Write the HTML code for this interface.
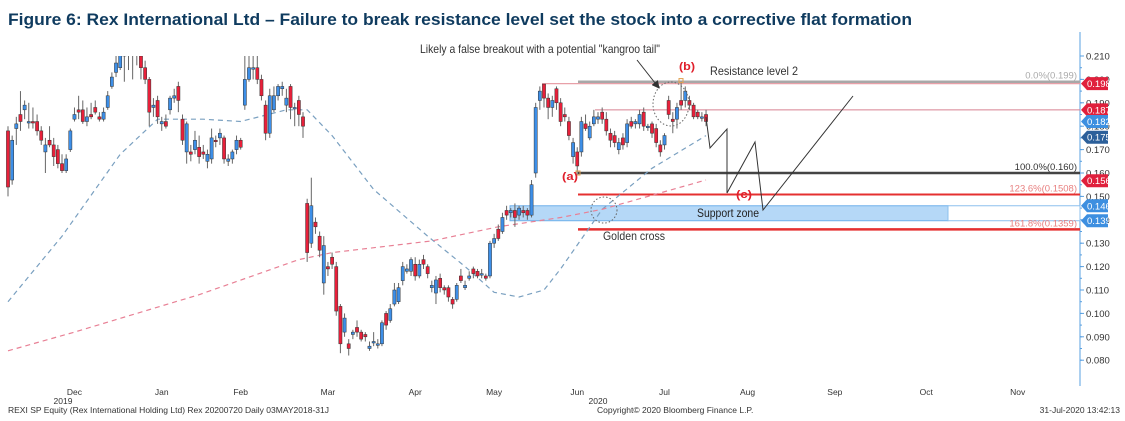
<!DOCTYPE html>
<html><head><meta charset="utf-8"><style>
html,body{margin:0;padding:0;background:#fff;}
svg{display:block;font-family:"Liberation Sans",sans-serif;}
</style></head><body>
<svg id="chart" width="1125" height="421" viewBox="0 0 1125 421" xmlns="http://www.w3.org/2000/svg">
<defs><clipPath id="plotclip"><rect x="0" y="56" width="1080" height="330"/></clipPath>
<marker id="arr" markerWidth="8" markerHeight="8" refX="7" refY="4" orient="auto"><path d="M0,0 L8,4 L0,8 z" fill="#333"/></marker></defs>
<text x="8" y="25" font-size="17" font-weight="bold" fill="#0f3b5f" textLength="904" lengthAdjust="spacingAndGlyphs">Figure 6: Rex International Ltd – Failure to break resistance level set the stock into a corrective flat formation</text>
<line x1="1080" y1="32" x2="1080" y2="386" stroke="#5aa0e0" stroke-width="1"/>
<g id="yticks"></g>
<g id="levels"></g>
<g id="mas" clip-path="url(#plotclip)"></g>
<g id="candles" clip-path="url(#plotclip)"></g>
<g id="annot"></g>
<g id="tags"></g>
<g id="xlabels"></g>
<text x="8" y="413" font-size="8.5" fill="#333">REXI SP Equity (Rex International Holding Ltd) Rex 20200720  Daily 03MAY2018-31J</text>
<text x="597" y="413" font-size="8.5" fill="#333">Copyright© 2020 Bloomberg Finance L.P.</text>
<text x="1120" y="413" font-size="8.5" fill="#333" text-anchor="end">31-Jul-2020 13:42:13</text>
</svg>
<script>
const opens=[.178,.157,.179,.185,.187,.182,.182,.182,.178,.169,.174,.172,.170,.164,.161,.170,.183,.187,.187,.182,.185,.188,.184,.183,.188,.197,.203,.205,.210,.211,.212,.214,.210,.205,.200,.188,.191,.181,.182,.187,.192,.197,
.183,.169,.169,.170,.171,.169,.165,.166,.174,.175,.175,.165,.166,.170,.174,.189,.200,.205,.205,.200,.189,.177,.187,.193,.196,.189,.197,.188,.191,.184,
.147,.130,.139,.133,.113,.120,.124,.120,.103,.092,.087,.091,.094,.092,.091,.085,.088,.087,.087,.100,.097,.104,.105,.114,.118,.118,.121,.116,.123,.120,.111,.1087,.115,.111,.111,.106,.106,.116,.111,.115,.119,.118,.117,.116,.116,.130,.136,.135,.144,.143,
.144,.142,.144,.144,.142,.160,.191,.198,.192,.188,.196,.190,.185,.182,.167,.169,.169,.181,.175,.181,.183,.186,.183,.177,.176,.170,.175,.173,.182,.181,.181,.186,.180,.181,.179,.172,.172,.191,.183,.183,.191,.191,.191,.189,.186,.184,.185];
const closes=[.154,.174,.181,.182,.189,.182,.1815,.178,.174,.172,.172,.167,.164,.161,.166,.178,.185,.186,.182,.184,.184,.186,.183,.186,.193,.201,.207,.211,.212,.213,.214,.212,.205,.200,.186,.189,.184,.182,.180,.192,.193,.191,
.174,.181,.168,.174,.167,.168,.168,.175,.1735,.177,.166,.166,.169,.174,.171,.200,.205,.205,.200,.193,.177,.193,.193,.197,.197,.192,.188,.188,.185,.180,
.126,.146,.137,.127,.129,.119,.121,.101,.087,.098,.085,.092,.092,.089,.090,.086,.088,.087,.096,.095,.102,.110,.111,.120,.119,.123,.116,.121,.121,.117,.112,.1143,.111,.110,.107,.104,.112,.114,.112,.116,.117,.116,.117,.115,.130,.132,.132,.141,.142,.144,
.141,.145,.143,.142,.155,.188,.195,.192,.188,.191,.190,.182,.184,.176,.173,.163,.182,.179,.180,.184,.184,.183,.178,.174,.173,.173,.172,.181,.180,.182,.185,.180,.180,.177,.173,.169,.176,.185,.182,.188,.189,.195,.189,.184,.184,.184,.182];
const highs=[.180,.176,.184,.195,.191,.190,.188,.185,.180,.175,.180,.175,.172,.168,.168,.179,.188,.193,.191,.188,.190,.191,.186,.188,.195,.203,.212,.214,.215,.216,.216,.216,.213,.208,.201,.192,.193,.184,.185,.193,.196,.199,
.185,.182,.172,.178,.176,.172,.170,.179,.176,.179,.176,.168,.170,.176,.175,.210,.214,.214,.212,.202,.191,.196,.197,.198,.199,.196,.198,.190,.193,.186,
.149,.158,.141,.135,.133,.122,.126,.122,.104,.100,.089,.093,.097,.093,.092,.088,.092,.089,.097,.101,.104,.113,.113,.122,.121,.124,.124,.123,.125,.121,.114,.116,.117,.112,.112,.107,.113,.119,.114,.118,.120,.119,.119,.117,.131,.134,.138,.143,.146,.145,
.147,.146,.146,.145,.157,.190,.197,.198,.194,.193,.197,.192,.188,.184,.175,.171,.184,.185,.182,.187,.186,.188,.186,.179,.178,.175,.177,.183,.184,.183,.187,.188,.181,.182,.181,.174,.177,.193,.186,.190,.199,.197,.193,.190,.187,.186,.187];
const lows=[.150,.155,.172,.178,.183,.179,.179,.176,.172,.160,.171,.163,.162,.160,.160,.169,.182,.183,.181,.180,.183,.185,.182,.182,.187,.196,.201,.204,.199,.204,.200,.206,.200,.198,.180,.184,.181,.178,.179,.185,.190,.186,
.172,.164,.165,.168,.164,.166,.162,.164,.171,.172,.164,.163,.164,.168,.170,.187,.199,.200,.198,.191,.174,.175,.186,.191,.193,.186,.183,.180,.180,.175,
.122,.128,.134,.124,.108,.116,.119,.099,.083,.090,.082,.089,.090,.088,.088,.084,.086,.085,.086,.093,.096,.103,.104,.112,.117,.116,.114,.115,.119,.115,.109,.104,.109,.108,.105,.102,.105,.113,.110,.114,.115,.115,.115,.114,.115,.128,.131,.134,.140,.141,
.137,.140,.141,.140,.141,.158,.187,.188,.183,.184,.187,.180,.182,.174,.164,.159,.167,.178,.174,.180,.181,.181,.176,.171,.171,.168,.170,.171,.179,.179,.179,.178,.178,.175,.171,.167,.170,.183,.177,.179,.187,.188,.187,.183,.183,.182,.180];
const ma50Days=[0,13,27,36,47,56,67,72,78,88,101,110,117,123,129,133,143,155,168];
const ma50Vals=[.105,.133,.168,.183,.183,.182,.187,.187,.176,.153,.133,.120,.109,.107,.110,.119,.1445,.162,.176];
const ma200Days=[0,16,46,70,78,102,118,133,143,168];
const ma200Vals=[.084,.092,.108,.123,.126,.131,.137,.141,.1445,.157];
const yTicks=[0.080,0.090,0.100,0.110,0.120,0.130,0.140,0.150,0.160,0.170,0.180,0.190,0.200,0.210];
const months=["Dec","Jan","Feb","Mar","Apr","May","Jun","Jul","Aug","Sep","Oct","Nov"];
const monthDays=[16,37,56,77,98,117,137,158,178,199,221,243];
const tagVals=[0.1982,0.187,0.182,0.1753,0.1567,0.146,0.1396];
const tagColors=["#e0203c","#e0203c","#3d8fe0","#2b5f9a","#e0203c","#3d8fe0","#3d8fe0"];

const NS="http://www.w3.org/2000/svg";
const Y=v=>56+(0.210-v)*2340;
const X=i=>8+i*4.155;
function mk(tag,attrs,parent){const e=document.createElementNS(NS,tag);for(const k in attrs)e.setAttribute(k,attrs[k]);parent.appendChild(e);return e;}
const gT=document.getElementById('yticks'),gL=document.getElementById('levels'),gM=document.getElementById('mas'),gC=document.getElementById('candles'),gA=document.getElementById('annot'),gG=document.getElementById('tags'),gX=document.getElementById('xlabels');

yTicks.forEach(v=>{
  const t=mk('line',{x1:1080,x2:1084,y1:Y(v),y2:Y(v),stroke:'#5aa0e0'},gT);
  
  
  const l=mk('text',{x:1086,y:Y(v)+3.5,'font-size':9.5,fill:'#333'},gT);
  
  
  l.textContent=v.toFixed(3);
});
for(let k=0;k<27;k++){const v=0.080+k*0.005;const m=mk('line',{x1:1080,x2:1082,y1:Y(v),y2:Y(v),stroke:'#5aa0e0'},gT);
  
  }

// support zone
const sz=mk('rect',{x:510,y:Y(0.146),width:438,height:Y(0.1396)-Y(0.146),fill:'#b5d8f7',stroke:'#6fb0ea','stroke-width':1},gL);


const sz2=mk('rect',{x:948,y:Y(0.146),width:132,height:Y(0.1396)-Y(0.146),fill:'#fff',stroke:'#8cc0ee','stroke-width':1},gL);


const levels=[[0.199,578,'#a8a8a8',2.5,'fib-0-line'],[0.1982,542,'#e8a0a8',1.2,'resistance-level-2-line'],[0.187,595,'#d88090',1,'resistance-187-line'],[0.160,578,'#444',2.5,'fib-100-line'],[0.1508,578,'#e53030',2,'fib-123-line'],[0.1359,578,'#e53030',2.5,'fib-161-line']];
levels.forEach(a=>{const l=mk('line',{x1:a[1],x2:1080,y1:Y(a[0]),y2:Y(a[0]),stroke:a[2],'stroke-width':a[3]},gL);
  
  });
const fibLabels=[['0.0%(0.199)',0.199,'#aaa'],['100.0%(0.160)',0.160,'#333'],['123.6%(0.1508)',0.1508,'#e88080'],['161.8%(0.1359)',0.1359,'#e88080']];
fibLabels.forEach(a=>{const t=mk('text',{x:1077,y:Y(a[1])-3,'font-size':9.5,fill:a[2],'text-anchor':'end'},gL);
  
  
  t.textContent=a[0];});

function maPath(days,vals,color,name){
  let d='';days.forEach((di,k)=>{d+=(k?'L':'M')+X(di).toFixed(1)+','+Y(vals[k]).toFixed(1);});
  const p=mk('path',{d:d,fill:'none',stroke:color,'stroke-width':1.2,'stroke-dasharray':'5,4'},gM);
  
  
}
maPath(ma50Days,ma50Vals,'#7aa0c0','ma-50-line');
maPath(ma200Days,ma200Vals,'#e88095','ma-200-line');

opens.forEach((o,i)=>{
  const c=closes[i],x=X(i),up=c>=o;
  const w=mk('line',{x1:x,x2:x,y1:Y(highs[i]),y2:Y(lows[i]),stroke:'#666','stroke-width':1},gC);
  
  
  const top=Y(Math.max(o,c)),bot=Y(Math.min(o,c));
  const b=mk('rect',{x:x-1.6,y:top,width:3.2,height:Math.max(1.5,bot-top),fill:up?'#3d8fe8':'#e8203a',stroke:'#333','stroke-width':0.5},gC);
  
  
});

// zigzag projection
const zz=mk('polyline',{points:'706,117 710,148 727,129 727,193 755,142 763,210 853,96',fill:'none',stroke:'#333','stroke-width':1},gA);


const c1=mk('circle',{cx:604,cy:210,r:13,fill:'none',stroke:'#666','stroke-width':1,'stroke-dasharray':'1.5,2'},gA);


const c2=mk('ellipse',{cx:671,cy:104,rx:18,ry:22,fill:'none',stroke:'#666','stroke-width':1,'stroke-dasharray':'1.5,2'},gA);


const ar=mk('line',{x1:637,y1:60,x2:659,y2:88,stroke:'#333','stroke-width':1,'marker-end':'url(#arr)'},gA);


[[578,Y(0.160)],[681,Y(0.1995)]].forEach(p=>{const s=mk('rect',{x:p[0]-2,y:p[1]-2,width:4,height:4,fill:'none',stroke:'#e0a050'},gA);
  
  });
const texts=[['Likely a false breakout with a potential "kangroo tail"',420,53,12,'#333','normal','kangaroo-note',240],['Resistance level 2',710,75,12,'#333','normal','resistance-label',88],['Support zone',697,217,12,'#222','normal','support-zone-label',62],['Golden cross',603,240,12,'#333','normal','golden-cross-label',62],['(a)',562,180,11,'#e0202c','bold','wave-a-label',16],['(b)',679,70,11,'#e0202c','bold','wave-b-label',16],['(c)',736,198,11,'#e0202c','bold','wave-c-label',16]];
texts.forEach(a=>{const t=mk('text',{x:a[1],y:a[2],'font-size':a[3],fill:a[4],'font-weight':a[5],textLength:a[7],lengthAdjust:'spacingAndGlyphs'},gA);
  
  
  t.textContent=a[0];});

tagVals.forEach((v,k)=>{const y=Y(v);
  const p=mk('polygon',{points:`1081,${y} 1087,${y-6.5} 1108,${y-6.5} 1108,${y+6.5} 1087,${y+6.5}`,fill:tagColors[k]},gG);
  
  
  const t=mk('text',{x:1087,y:y+3.5,'font-size':9.5,fill:'#fff'},gG);
  
  
  t.textContent=String(v);});

months.forEach((m,k)=>{const t=mk('text',{x:X(monthDays[k]),y:395,'font-size':8.5,fill:'#333','text-anchor':'middle'},gX);
  
  
  t.textContent=m;});
[['2019',63],['2020',598]].forEach(a=>{const t=mk('text',{x:a[1],y:404,'font-size':8.5,fill:'#333','text-anchor':'middle'},gX);
  
  
  t.textContent=a[0];});
</script>
</body></html>
